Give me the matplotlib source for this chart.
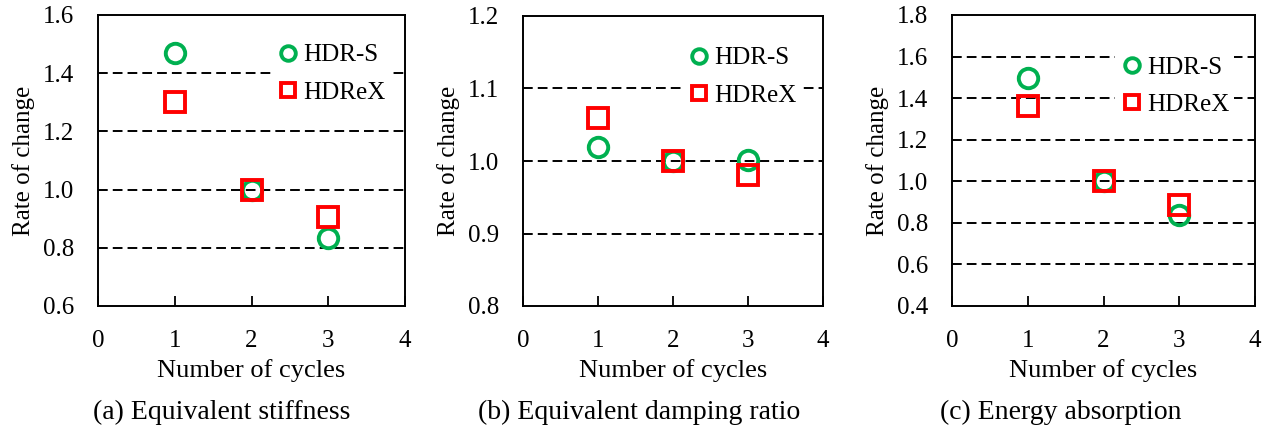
import matplotlib
matplotlib.use("Agg")
import matplotlib.pyplot as plt

plt.rcParams['font.family'] = ['Liberation Serif', 'DejaVu Serif']

cycles = [1, 2, 3]

# Equivalent stiffness
stiff_hdrs = [1.47, 1.00, 0.835]
stiff_hdrex = [1.30, 1.00, 0.905]

# Equivalent damping ratio
damp_hdrs = [1.020, 1.000, 1.002]
damp_hdrex = [1.059, 1.000, 0.981]

# Energy absorption
energy_hdrs = [1.497, 1.00, 0.836]
energy_hdrex = [1.363, 1.00, 0.885]

x_ticks = [0, 1, 2, 3, 4]
series_labels = ["HDR-S", "HDReX"]
subtitles = ["(a) Equivalent stiffness", "(b) Equivalent damping ratio", "(c) Energy absorption"]
y_ticks = [
    [0.6, 0.8, 1.0, 1.2, 1.4, 1.6],
    [0.8, 0.9, 1.0, 1.1, 1.2],
    [0.4, 0.6, 0.8, 1.0, 1.2, 1.4, 1.6, 1.8],
]
panels = [
    (stiff_hdrs, stiff_hdrex),
    (damp_hdrs, damp_hdrex),
    (energy_hdrs, energy_hdrex),
]

W, H = 1266, 434
fig = plt.figure(figsize=(W / 100, H / 100), dpi=100)

# axes boxes in pixels: left, top, right, bottom
boxes = [(98, 15, 405, 306), (523, 16, 823, 306), (952, 15, 1255, 306)]
# legend marker column x and row midpoint y, in pixels
legend_px = [(288, 74), (699, 77), (1132, 86)]
# caption centre x in pixels
caption_x = [222, 639, 1061]

GREEN = "#00B050"
RED = "#FF0000"
FS = 18
FS_PX = FS * 100 / 72
BORDERPAD = 0.2
HANDLELEN = 1.0

for i, ((hdrs, hdrex), (l, t, r, b)) in enumerate(zip(panels, boxes)):
    ax = fig.add_axes([l / W, 1 - b / H, (r - l) / W, (b - t) / H])
    yt = y_ticks[i]
    ax.set_xlim(0, 4)
    ax.set_ylim(yt[0], yt[-1])
    ax.set_xticks(x_ticks)
    ax.set_yticks(yt)
    ax.set_yticklabels([f"{v:.1f}" for v in yt])
    for yv in yt[1:-1]:
        ax.axhline(yv, color="black", lw=1.4, ls=(0, (5, 2.6)), zorder=0)
    ax.plot(cycles, hdrs, ls="none", marker="o", ms=14, mfc="none", mec=GREEN,
            mew=2.8, label=series_labels[0], zorder=3)
    ax.plot(cycles, hdrex, ls="none", marker="s", ms=14, mfc="none", mec=RED,
            mew=2.8, label=series_labels[1], zorder=3)
    for s in ax.spines.values():
        s.set_linewidth(1.4)
    ax.tick_params(axis="x", direction="in", length=7, width=1.3, labelsize=FS, pad=17)
    ax.tick_params(axis="y", direction="in", length=0, labelsize=FS, pad=17)
    ax.set_ylabel("Rate of change", fontsize=FS, labelpad=6)
    ax.set_xlabel("Number of cycles", fontsize=19, labelpad=5)

    mx, my = legend_px[i]
    lx = mx - (BORDERPAD + HANDLELEN / 2) * FS_PX
    anchor = ((lx - l) / (r - l), (b - my) / (b - t))
    ax.legend(loc="center left", bbox_to_anchor=anchor, frameon=True,
              facecolor="white", edgecolor="none", framealpha=1, fancybox=False,
              fontsize=FS, handlelength=HANDLELEN, handletextpad=0.1,
              labelspacing=0.6, borderpad=BORDERPAD, borderaxespad=0,
              markerscale=0.75)
    fig.text(caption_x[i] / W, 1 - 412 / H, subtitles[i], ha="center", va="center", fontsize=20)

fig.savefig("out.png", dpi=100)
